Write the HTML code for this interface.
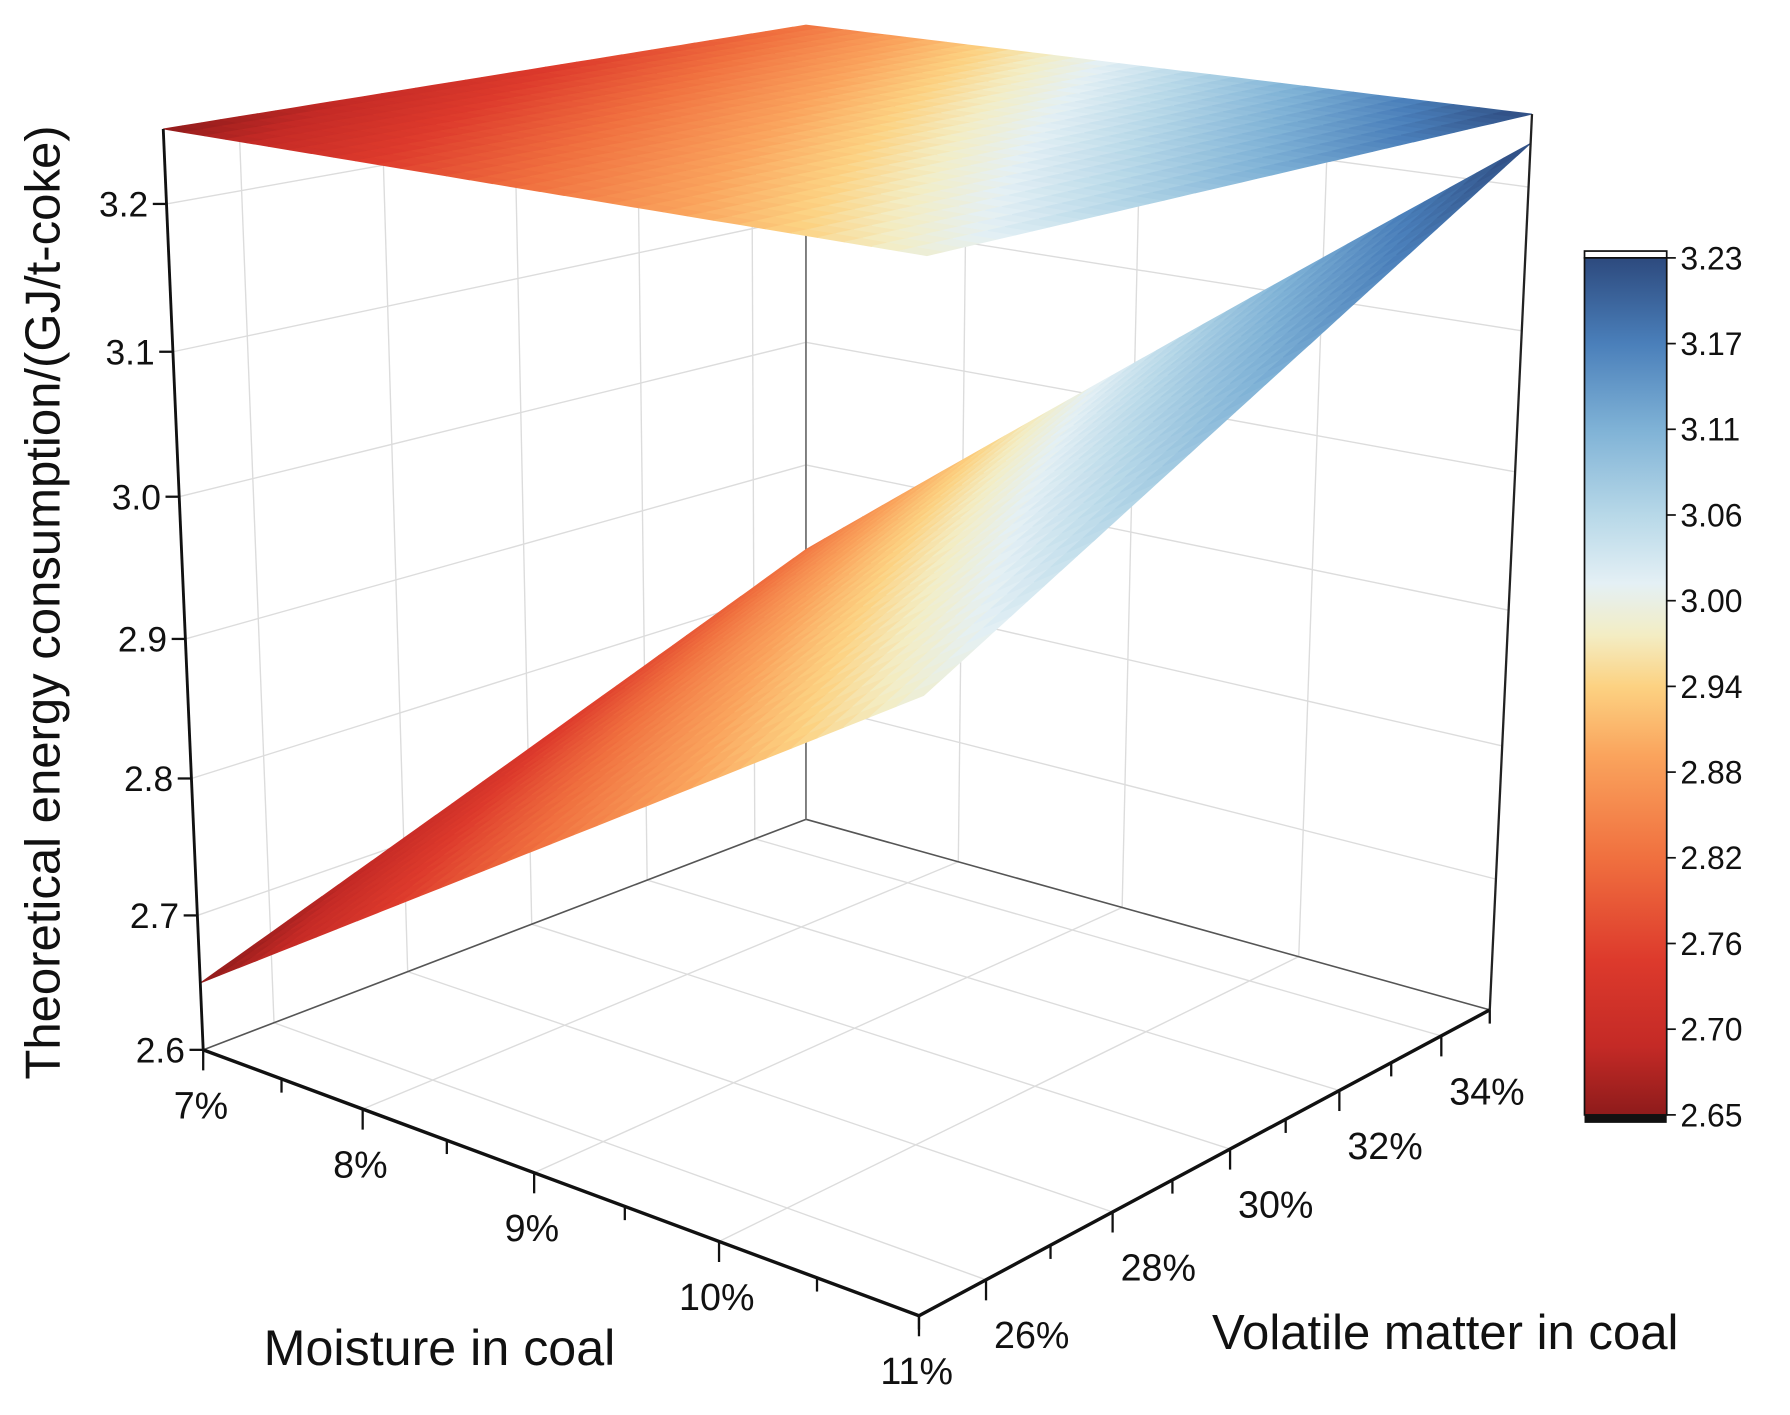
<!DOCTYPE html>
<html><head><meta charset="utf-8">
<style>
html,body{margin:0;padding:0;background:#fff;}
svg{display:block;font-family:"Liberation Sans",Arial,sans-serif;}
</style></head>
<body>
<svg id="chart" width="1790" height="1415" viewBox="0 0 1568 1240" preserveAspectRatio="none" xmlns="http://www.w3.org/2000/svg">
<defs>
<linearGradient id="cbgrad" x1="0" y1="1" x2="0" y2="0"></linearGradient>
</defs>
<g id="walls"></g>
<g id="surface"></g>
<g id="axes"></g>
<g id="colorbar"></g>
<text x="385" y="1196" font-size="44" text-anchor="middle" fill="#111">Moisture in coal</text>
<text x="1266" y="1182" font-size="43" text-anchor="middle" fill="#111">Volatile matter in coal</text>
<text transform="translate(52,528) rotate(-90)" font-size="43" text-anchor="middle" fill="#111">Theoretical energy consumption/(GJ/t-coke)</text>
</svg>
<script>
// ---- data ----
const moisture = [7, 8, 9, 10, 11];            // %
const volatile = [25, 27, 29, 31, 33, 35];     // %
const energy = [
  [2.650, 2.686, 2.722, 2.758, 2.794, 2.830],
  [2.735, 2.774, 2.813, 2.852, 2.891, 2.930],
  [2.820, 2.862, 2.904, 2.946, 2.988, 3.030],
  [2.905, 2.950, 2.995, 3.040, 3.085, 3.130],
  [2.990, 3.038, 3.086, 3.134, 3.182, 3.230]
];
const zTicks = [2.6, 2.7, 2.8, 2.9, 3.0, 3.1, 3.2];
const zTickLabels = ["2.6", "2.7", "2.8", "2.9", "3.0", "3.1", "3.2"];
const mTicks = [7, 8, 9, 10, 11];
const mTickLabels = ["7%", "8%", "9%", "10%", "11%"];
const vTicks = [26, 28, 30, 32, 34];
const vTickLabels = ["26%", "28%", "30%", "32%", "34%"];
const cbLabels = ["3.23", "3.17", "3.11", "3.06", "3.00", "2.94", "2.88", "2.82", "2.76", "2.70", "2.65"];

// ---- axis functions ----
const M0 = 7, M1 = 11, V0 = 25, V1 = 35, Z0 = 2.6, Z1 = 3.25;
const C = {
  '000':[178,920],'100':[805,1153],'010':[706,718],'110':[1305,885],
  '001':[143,113],'101':[812,224],'011':[706,22],'111':[1342,100]
};
function persp(t,c){return t*(1+c)/(1+c*t);}
function proj(u,v,w){
  let x=0,y=0;
  for(const a of [0,1])for(const b of [0,1])for(const c of [0,1]){
    const k=(a?u:1-u)*(b?v:1-v)*(c?w:1-w);
    const p=C[''+a+b+c]; x+=k*p[0]; y+=k*p[1];
  }
  return [x,y];
}
const mu = m => persp((m-M0)/(M1-M0), -0.14);
const nv = v => persp((v-V0)/(V1-V0), 0.198);
const wz = z => persp((z-Z0)/(Z1-Z0), -0.06);
const stops=[[0,'#8e1b1b'],[0.08,'#c42a26'],[0.18,'#dd3a2c'],[0.3,'#f0703f'],[0.42,'#faa45d'],[0.5,'#fcd282'],[0.56,'#f3edc4'],[0.62,'#e4f0f5'],[0.7,'#b7d8e8'],[0.8,'#7fb2d6'],[0.9,'#4a7fba'],[1,'#2d4a7e']];
function hex(h){return [1,3,5].map(i=>parseInt(h.substr(i,2),16));}
function cmap(z){
  let t=(z-2.65)/0.58; t=Math.max(0,Math.min(1,t));
  for(let i=1;i<stops.length;i++){
    if(t<=stops[i][0]){
      const a=stops[i-1],b=stops[i],f=(t-a[0])/(b[0]-a[0]);
      const ca=hex(a[1]),cb=hex(b[1]);
      return 'rgb('+ca.map((c,j)=>Math.round(c+(cb[j]-c)*f)).join(',')+')';
    }
  }
  return stops[stops.length-1][1];
}
const NS='http://www.w3.org/2000/svg';
function mk(tag,parent,attrs){const e=document.createElementNS(NS,tag);for(const k in attrs)e.setAttribute(k,attrs[k]);parent.appendChild(e);return e;}
function line(parent,p,q,stroke,sw){return mk('line',parent,{x1:p[0],y1:p[1],x2:q[0],y2:q[1],stroke:stroke,'stroke-width':sw});}

// ---- grid walls ----
const walls=document.getElementById('walls');
const gc='#dcdcdc';
zTicks.slice(1).forEach(z=>{
  const g1=line(walls,proj(0,0,wz(z)),proj(0,1,wz(z)),gc,1.2);
  
  
  const g2=line(walls,proj(0,1,wz(z)),proj(1,1,wz(z)),gc,1.2);
  
  
});
vTicks.forEach(v=>{
  const g1=line(walls,proj(0,nv(v),0),proj(0,nv(v),1),gc,1.2);
  
  
  const g2=line(walls,proj(0,nv(v),0),proj(1,nv(v),0),gc,1.2);
  
  
});
mTicks.slice(1,4).forEach(m=>{
  const g1=line(walls,proj(mu(m),1,0),proj(mu(m),1,1),gc,1.2);
  
  
  const g2=line(walls,proj(mu(m),0,0),proj(mu(m),1,0),gc,1.2);
  
  
});
const be1=line(walls,proj(0,0,0),proj(0,1,0),'#555',1.4);


const be2=line(walls,proj(0,1,0),proj(1,1,0),'#555',1.4);


const be3=line(walls,proj(0,1,0),proj(0,1,1),'#777',1.6);



// ---- surface ----
const surf=document.getElementById('surface');
const SUB=8;
function zAt(i,j,s,t){
  return energy[i][j]*(1-s)*(1-t)+energy[i+1][j]*s*(1-t)+energy[i][j+1]*(1-s)*t+energy[i+1][j+1]*s*t;
}
function drawSheet(top,name){
  const g=mk('g',surf,{});
  
  
  for(let i=0;i<moisture.length-1;i++)for(let j=0;j<volatile.length-1;j++){
    for(let a=0;a<SUB;a++)for(let b=0;b<SUB;b++){
      const pts=[[a,b],[a+1,b],[a+1,b+1],[a,b+1]].map(([s,t])=>{
        const ss=s/SUB,tt=t/SUB;
        const m=moisture[i]+(moisture[i+1]-moisture[i])*ss;
        const v=volatile[j]+(volatile[j+1]-volatile[j])*tt;
        const z=zAt(i,j,ss,tt);
        return proj(mu(m),nv(v),top?1:wz(z));
      });
      const zc=zAt(i,j,(a+0.5)/SUB,(b+0.5)/SUB);
      const col=cmap(zc);
      const p=mk('polygon',g,{points:pts.map(q=>q[0].toFixed(1)+','+q[1].toFixed(1)).join(' '),fill:col,stroke:col,'stroke-width':0.8});
      
      
    }
  }
}
drawSheet(true,'surface-top-cap');
drawSheet(false,'surface-sheet');

// ---- axes ----
const ax=document.getElementById('axes');
const zl=line(ax,proj(0,0,0),proj(0,0,1),'#111',2.5);


const ml=line(ax,proj(0,0,0),proj(1,0,0),'#111',3);


const vl=line(ax,proj(1,0,0),proj(1,1,0),'#111',3);


const rl=line(ax,proj(1,1,0),proj(1,1,1),'#222',2);


function txt(parent,x,y,s,size,anchor){const t=mk('text',parent,{x:x,y:y,'font-size':size,'text-anchor':anchor,fill:'#111'});t.textContent=s;return t;}
zTicks.forEach((z,k)=>{
  const p=proj(0,0,wz(z));
  const tk=line(ax,[p[0]-12,p[1]],p,'#111',2);
  
  
  const t=txt(ax,p[0]-16,p[1]+11,zTickLabels[k],31,'end');
  
  
});
for(let m=7;m<=11.001;m+=0.5){
  const p=proj(mu(m),0,0);const major=Math.abs(m-Math.round(m))<0.01;
  const tk=line(ax,p,[p[0],p[1]+(major?18:12)],'#111',2);
  
  
}
mTicks.forEach((m,k)=>{
  const p=proj(mu(m),0,0);
  const t=txt(ax,p[0]-2,p[1]+60,mTickLabels[k],33,'middle');
  
  
});
for(let v=25;v<=35.001;v+=1){
  const p=proj(1,nv(v),0);const major=(Math.round(v)%2===0);
  const tk=line(ax,p,[p[0],p[1]+(major?18:12)],'#111',2);
  
  
}
vTicks.forEach((v,k)=>{
  const p=proj(1,nv(v),0);
  const t=txt(ax,p[0]+40,p[1]+60,vTickLabels[k],33,'middle');
  
  
});

// ---- colorbar ----
const cb=document.getElementById('colorbar');
const grad=document.getElementById('cbgrad');
stops.forEach(s=>{mk('stop',grad,{offset:s[0],'stop-color':s[1]});});
const bx=1388,bw=72,by0=226,by1=977;
const topStrip=mk('rect',cb,{x:bx,y:220,width:bw,height:6,fill:'#fff',stroke:'#111','stroke-width':1.5});


const bar=mk('rect',cb,{x:bx,y:by0,width:bw,height:by1-by0,fill:'url(#cbgrad)',stroke:'#111','stroke-width':1.5});


const botStrip=mk('rect',cb,{x:bx,y:by1,width:bw,height:7,fill:'#111'});


cbLabels.forEach((s,k)=>{
  const y=by0+(by1-by0)*k/(cbLabels.length-1);
  const tk=line(cb,[bx+bw,y],[bx+bw+8,y],'#111',1.5);
  
  
  const t=txt(cb,bx+bw+12,y+10,s,28,'start');
  
  
});
</script>
</body></html>
